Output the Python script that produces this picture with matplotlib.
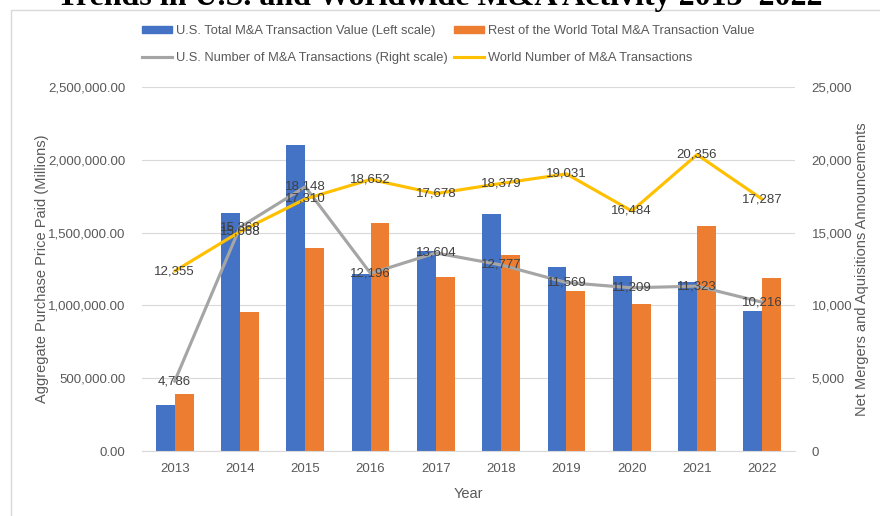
import matplotlib

matplotlib.use("Agg")
import matplotlib.pyplot as plt
import numpy as np
from matplotlib.lines import Line2D
from matplotlib.patches import Patch, Rectangle
from matplotlib.ticker import FuncFormatter, MultipleLocator

BLUE = "#4472C4"
ORANGE = "#ED7D31"
GRAY = "#A5A5A5"
YELLOW = "#FFC000"
TEXT = "#595959"
LABEL = "#404040"
GRID = "#D9D9D9"

years = ["2013", "2014", "2015", "2016", "2017", "2018", "2019", "2020", "2021", "2022"]
us_value = [315000, 1637000, 2101000, 1214000, 1374000, 1630000, 1262000, 1205000, 1164000, 960000]
row_value = [391000, 953000, 1392000, 1564000, 1198000, 1344000, 1097000, 1010000, 1548000, 1189000]
us_deals = [4786, 15368, 18148, 12196, 13604, 12777, 11569, 11209, 11323, 10216]
world_deals = [12355, 15068, 17310, 18652, 17678, 18379, 19031, 16484, 20356, 17287]

plt.rcParams["font.family"] = ["Liberation Sans", "DejaVu Sans"]

W, H = 880, 516
fig = plt.figure(figsize=(W / 100, H / 100), dpi=100)
ax = fig.add_axes([142 / W, 1 - 451 / H, (795 - 142) / W, (451 - 87) / H])
ax2 = ax.twinx()

x = np.arange(len(years))
bw = 0.29
ax.bar(x - bw / 2, us_value, bw, color=BLUE, zorder=2)
ax.bar(x + bw / 2, row_value, bw, color=ORANGE, zorder=2)

ax.set_xlim(-0.5, len(years) - 0.5)
ax.set_ylim(0, 2500000)
ax.yaxis.set_major_locator(MultipleLocator(500000))
ax.yaxis.set_major_formatter(FuncFormatter(lambda v, p: f"{v:,.2f}"))
ax.grid(axis="y", color=GRID, lw=0.8, zorder=0)
ax.set_axisbelow(True)
ax.set_xticks(x)
ax.set_xticklabels(years)

ax2.plot(x, us_deals, color=GRAY, lw=2.25, solid_capstyle="round", zorder=3)
ax2.plot(x, world_deals, color=YELLOW, lw=2.25, solid_capstyle="round", zorder=3)
ax2.set_ylim(0, 25000)
ax2.yaxis.set_major_locator(MultipleLocator(5000))
ax2.yaxis.set_major_formatter(FuncFormatter(lambda v, p: f"{v:,.0f}"))
ax2.set_xlim(-0.5, len(years) - 0.5)

for series in (us_deals, world_deals):
    for i, v in enumerate(series):
        ax2.text(i, v, f"{v:,}", ha="center", va="center", fontsize=9.5, color=LABEL, zorder=4)

for a in (ax, ax2):
    for s in a.spines.values():
        s.set_visible(False)
    a.tick_params(length=0, colors=TEXT, labelsize=9.5)
ax.spines["bottom"].set_visible(True)
ax.spines["bottom"].set_color(GRID)
ax.tick_params(axis="y", pad=12)
ax.tick_params(axis="x", pad=9)
ax2.tick_params(axis="y", pad=12)

fig.text(42 / W, 1 - 269 / H, "Aggregate Purchase Price Paid (Millions)", rotation=90,
         ha="center", va="center", fontsize=10.5, color=TEXT)
fig.text(862 / W, 1 - 269 / H, "Net Mergers and Aquisitions Announcements", rotation=90,
         ha="center", va="center", fontsize=10.5, color=TEXT)
fig.text(468 / W, 1 - 494 / H, "Year", ha="center", va="center", fontsize=10.5, color=TEXT)

# legend entries placed one by one, two rows like the Excel layout
entries = [
    (Patch(color=BLUE), "U.S. Total M&A Transaction Value (Left scale)", 142, 31),
    (Patch(color=ORANGE), "Rest of the World Total M&A Transaction Value", 454, 31),
    (Line2D([], [], color=GRAY, lw=2.25), "U.S. Number of M&A Transactions (Right scale)", 142, 58),
    (Line2D([], [], color=YELLOW, lw=2.25), "World Number of M&A Transactions", 454, 58),
]
for handle, label, px, py in entries:
    fig.legend([handle], [label], loc="center left", bbox_to_anchor=(px / W, 1 - py / H),
               frameon=False, fontsize=9.3, labelcolor=TEXT, handlelength=2.3,
               handleheight=0.5, handletextpad=0.3, borderpad=0, borderaxespad=0)

fig.patches.append(Rectangle((11 / W, -0.1), 2, 1.1 - 10 / H, transform=fig.transFigure,
                             fill=False, ec=GRID, lw=1))
fig.text(0.5, 1 - 4.5 / H, "Trends in U.S. and Worldwide M&A Activity 2013\u20132022",
         ha="center", va="baseline", fontsize=23, fontweight="bold",
         family=["Liberation Serif", "DejaVu Serif"], color="black")

fig.savefig("out.png", dpi=100)
